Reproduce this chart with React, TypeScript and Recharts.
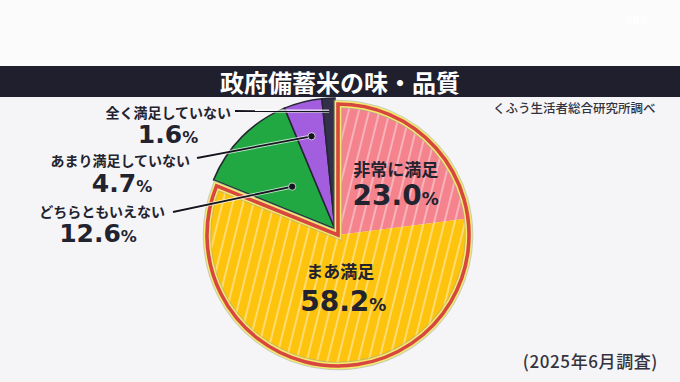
import React from "react";
import { PieChart, Pie, Cell } from "recharts";

document.body.style.margin = "0";

// ---------- data ----------
const categories = ["非常に満足", "まあ満足", "どちらともいえない", "あまり満足していない", "全く満足していない"];
const values = [23.0, 58.2, 12.6, 4.7, 1.6];
const valueLabels = ["23.0", "58.2", "12.6", "4.7", "1.6"];
const satisfiedFlags = [true, true, false, false, false];
const colors = ["#f4838e", "#fdc30d", "#21a843", "#a25ede", "#34304a"];
const hatchIds = ["hatchPink", "hatchYellow", "", "", ""];
const titleText = "政府備蓄米の味・品質";
const sourceText = "くふう生活者総合研究所調べ";
const surveyText = "(2025年6月調査)";

const data = categories.map((name, i) => ({ name, value: values[i] }));
const satisfiedTotal = values.filter((_, i) => satisfiedFlags[i]).reduce((a, b) => a + b, 0);
const otherTotal = values.filter((_, i) => !satisfiedFlags[i]).reduce((a, b) => a + b, 0);
const groupData = [
  { name: "満足", value: satisfiedTotal },
  { name: "その他", value: otherTotal },
];

// ---------- layout ----------
const UC = { cx: 335, cy: 229 }; // unsatisfied group centre
const SC = { cx: 338, cy: 235 }; // satisfied (exploded) group centre
const R = 131;
const INK = "#23232f";
const JP = "'Noto Sans CJK JP', 'Noto Sans', sans-serif";
const NUM = "'DejaVu Sans', sans-serif";
const RAD = Math.PI / 180;

const polar = (cx: number, cy: number, r: number, a: number) => ({
  x: cx + r * Math.cos(-a * RAD),
  y: cy + r * Math.sin(-a * RAD),
});

// callouts for small slices: name anchored end, number centred, leader start
const callout: Record<number, any> = {
  2: { nameX: 165, nameY: 217, numX: 98, numY: 242, lineX: 173, lineY: 212, frac: 0.46, dot: true },
  3: { nameX: 190, nameY: 166, numX: 122, numY: 192, lineX: 197, lineY: 158, frac: 0.73, dot: true },
  4: { nameX: 231, nameY: 118, numX: 168, numY: 143, lineX: 235, lineY: 111, frac: 0.9, dot: false },
};
const inner: Record<number, any> = {
  0: { frac: 0.62, nameDx: 4, nameDy: 2, numDx: 4, numDy: 31 },
  1: { frac: 0.4, nameDx: 9, nameDy: -9, numDx: 12, numDy: 24 },
};

const NumberText = ({ x, y, text, size, pct }: any) => (
  <text x={x} y={y} textAnchor="middle" fill={INK} fontFamily={NUM} fontWeight={700}>
    <tspan fontSize={size}>{text}</tspan>
    <tspan fontSize={pct}>%</tspan>
  </text>
);

const renderCallout = (props: any) => {
  const { cx, cy, midAngle, outerRadius, index } = props;
  const c = callout[index];
  if (!c) return null;
  const p = polar(cx, cy, outerRadius * c.frac, midAngle);
  return (
    <g key={`c${index}`}>
      <line x1={c.lineX} y1={c.lineY} x2={p.x} y2={p.y} stroke="#ffffff" strokeOpacity={0.7} strokeWidth={3.6} />
      <line x1={c.lineX} y1={c.lineY} x2={p.x} y2={p.y} stroke="#15151f" strokeWidth={1.8} />
      {c.dot && <circle cx={p.x} cy={p.y} r={3.6} fill="#15151f" stroke="#ffffff" strokeOpacity={0.7} strokeWidth={1} />}
      <text x={c.nameX} y={c.nameY} textAnchor="end" fill={INK} fontFamily={JP} fontWeight={700} fontSize={14}>
        {categories[index]}
      </text>
      <NumberText x={c.numX} y={c.numY} text={valueLabels[index]} size={25} pct={16} />
    </g>
  );
};

const renderInner = (props: any) => {
  const { cx, cy, midAngle, outerRadius, index } = props;
  const c = inner[index];
  if (!c) return null;
  const p = polar(cx, cy, outerRadius * c.frac, midAngle);
  return (
    <g key={`i${index}`}>
      <text x={p.x + c.nameDx} y={p.y + c.nameDy} textAnchor="middle" fill={INK} fontFamily={JP} fontWeight={700} fontSize={17}>
        {categories[index]}
      </text>
      <NumberText x={p.x + c.numDx} y={p.y + c.numDy} text={valueLabels[index]} size={28} pct={17} />
    </g>
  );
};

export default function App() {
  return (
    <div style={{ position: "relative", width: 680, height: 382, background: "#f5f5f7", overflow: "hidden" }}>
      <svg width={0} height={0} style={{ position: "absolute" }}>
        <defs>
          <pattern id="hatchPink" patternUnits="userSpaceOnUse" width={10} height={10} patternTransform="rotate(14)">
            <rect x={0} y={0} width={10} height={10} fill={colors[0]} />
            <line x1={5} y1={0} x2={5} y2={10} stroke="#ffffff" strokeOpacity={0.7} strokeWidth={1.1} />
          </pattern>
          <pattern id="hatchYellow" patternUnits="userSpaceOnUse" width={10} height={10} patternTransform="rotate(14)">
            <rect x={0} y={0} width={10} height={10} fill={colors[1]} />
            <line x1={5} y1={0} x2={5} y2={10} stroke="#ffffff" strokeOpacity={0.75} strokeWidth={1.1} />
          </pattern>
        </defs>
      </svg>
      <div style={{ position: "absolute", left: 0, top: 0, width: 680, height: 66, background: "#fbfbfc" }} />
      <div
        style={{
          position: "absolute", left: 0, top: 66, width: 680, height: 31, background: "#1f1f2d",
          color: "#ffffff", fontFamily: JP, fontWeight: 700, fontSize: 24, lineHeight: "31px", textAlign: "center",
        }}
      >
        {titleText}
      </div>
      <div style={{ position: "absolute", left: 625, top: 14, color: "#ffffff", fontFamily: "'Liberation Sans', sans-serif", fontWeight: 700, fontSize: 11 }}>
        SBS
      </div>
      <div style={{ position: "absolute", left: 493, top: 100, color: "#333340", fontFamily: JP, fontWeight: 500, fontSize: 12.5, lineHeight: "16px", whiteSpace: "nowrap" }}>
        {sourceText}
      </div>
      <div style={{ position: "absolute", right: 22, top: 350, color: "#333340", fontFamily: JP, fontWeight: 500, fontSize: 17, letterSpacing: 0.6, lineHeight: "21px", whiteSpace: "nowrap" }}>
        {surveyText}
      </div>
      <div style={{ position: "absolute", left: 0, top: 0 }}>
        <PieChart width={680} height={382} margin={{ top: 0, right: 0, bottom: 0, left: 0 }}>
          <Pie data={data} dataKey="value" cx={UC.cx} cy={UC.cy} outerRadius={R} startAngle={90} endAngle={-270} stroke="none" isAnimationActive={false}>
            {data.map((_, i) => (
              <Cell key={i} fill={satisfiedFlags[i] ? "none" : colors[i]} stroke={satisfiedFlags[i] ? "none" : "#262633"} strokeWidth={1.5} />
            ))}
          </Pie>
          <Pie data={data} dataKey="value" cx={SC.cx} cy={SC.cy} outerRadius={R} startAngle={90} endAngle={-270} stroke="none" isAnimationActive={false}>
            {data.map((_, i) => (
              <Cell key={i} fill={satisfiedFlags[i] ? `url(#${hatchIds[i]})` : "none"} stroke="none" />
            ))}
          </Pie>
          <Pie data={groupData} dataKey="value" cx={SC.cx} cy={SC.cy} outerRadius={R} startAngle={90} endAngle={-270} stroke="none" isAnimationActive={false}>
            <Cell fill="none" stroke="#aab28a" strokeOpacity={0.6} strokeWidth={8.5} />
            <Cell fill="none" stroke="none" />
          </Pie>
          <Pie data={groupData} dataKey="value" cx={SC.cx} cy={SC.cy} outerRadius={R} startAngle={90} endAngle={-270} stroke="none" isAnimationActive={false}>
            <Cell fill="none" stroke="#f6ea6e" strokeWidth={6.5} />
            <Cell fill="none" stroke="none" />
          </Pie>
          <Pie data={groupData} dataKey="value" cx={SC.cx} cy={SC.cy} outerRadius={R} startAngle={90} endAngle={-270} stroke="none" isAnimationActive={false}>
            <Cell fill="none" stroke="#d8473f" strokeWidth={3.6} />
            <Cell fill="none" stroke="none" />
          </Pie>
          <Pie data={data} dataKey="value" cx={UC.cx} cy={UC.cy} outerRadius={R} startAngle={90} endAngle={-270} stroke="none" fill="none" label={renderCallout} labelLine={false} isAnimationActive={false}>
            {data.map((_, i) => (
              <Cell key={i} fill="none" stroke="none" />
            ))}
          </Pie>
          <Pie data={data} dataKey="value" cx={SC.cx} cy={SC.cy} outerRadius={R} startAngle={90} endAngle={-270} stroke="none" fill="none" label={renderInner} labelLine={false} isAnimationActive={false}>
            {data.map((_, i) => (
              <Cell key={i} fill="none" stroke="none" />
            ))}
          </Pie>
        </PieChart>
      </div>
    </div>
  );
}
